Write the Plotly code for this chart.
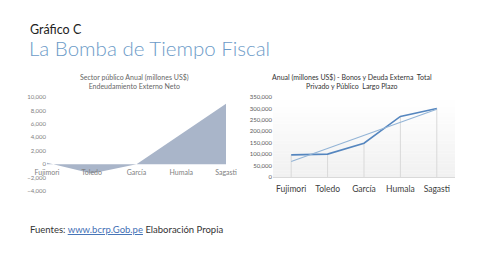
import numpy as np
import plotly.graph_objects as go

# ---------------- data ----------------
categories = ["Fujimori", "Toledo", "García", "Humala", "Sagasti"]
neto_values = [200, -1400, 0, 4500, 9000]          # Endeudamiento externo neto (millones US$)
deuda_values = [97000, 100000, 148000, 265000, 300000]  # Bonos y deuda externa total (millones US$)
left_tickvals = [-4000, -2000, 0, 2000, 4000, 6000, 8000, 10000]
right_tickvals = [0, 50000, 100000, 150000, 200000, 250000, 300000, 350000]

# linear trendline computed from the series (like Excel's trendline)
idx = np.arange(len(categories))
slope, intercept = np.polyfit(idx, deuda_values, 1)
trend_values = slope * idx + intercept

W, H = 488, 274
FONT = "Lato"

def px(x):
    return x / W

def py(y):
    return 1 - y / H

fig = go.Figure()

# ---- left chart: area ----
fig.add_trace(go.Scatter(
    x=categories, y=neto_values, mode="lines", fill="tozeroy",
    line=dict(width=0, color="#a9b5c9"), fillcolor="#a9b5c9",
    xaxis="x", yaxis="y", showlegend=False, hoverinfo="skip"))

# ---- right chart: drop lines, series, trend ----
drop_x, drop_y = [], []
for c, v in zip(categories, deuda_values):
    drop_x += [c, c, None]
    drop_y += [0, v, None]
fig.add_trace(go.Scatter(
    x=drop_x, y=drop_y, mode="lines", line=dict(color="#d9d9d9", width=1),
    xaxis="x2", yaxis="y2", showlegend=False, hoverinfo="skip"))
fig.add_trace(go.Scatter(
    x=categories, y=deuda_values, mode="lines",
    line=dict(color="#5586bf", width=1.6),
    xaxis="x2", yaxis="y2", showlegend=False))
fig.add_trace(go.Scatter(
    x=categories, y=trend_values, mode="lines",
    line=dict(color="#93b4d6", width=1.1),
    xaxis="x2", yaxis="y2", showlegend=False))

# geometry
ly_dom = [py(191), py(97)]
lzero = ly_dom[0] + (0 - (-4000)) / 14000 * (ly_dom[1] - ly_dom[0])

tick_font = dict(family=FONT, size=6, color="#808080")

fig.update_layout(
    width=W, height=H,
    margin=dict(l=0, r=0, t=0, b=0, autoexpand=False),
    paper_bgcolor="white", plot_bgcolor="rgba(0,0,0,0)",
    font=dict(family=FONT, weight="normal"),
    xaxis=dict(domain=[px(47), px(226)], type="category", range=[0, 4],
               anchor="free", position=lzero, showgrid=False, zeroline=False,
               showline=False, ticks="", automargin=False, ticklabelstandoff=3,
               tickfont=dict(family=FONT, size=7, color="#808080")),
    yaxis=dict(domain=ly_dom, range=[-4000, 10000], tickvals=left_tickvals,
               tickformat=",", showgrid=False, zeroline=False, showline=False,
               ticks="", tickfont=tick_font, anchor="x", automargin=False),
    xaxis2=dict(domain=[px(273), px(455)], type="category", range=[-0.5, 4.5],
                anchor="y2", showgrid=False, zeroline=False, showline=True,
                linecolor="#d9d9d9", linewidth=1, ticks="", automargin=False,
                ticklabelstandoff=4,
                tickfont=dict(family=FONT, size=8.5, color="#404040")),
    yaxis2=dict(domain=[py(177), py(97)], range=[0, 350000], tickvals=right_tickvals,
                tickformat=",", showgrid=False, zeroline=False, showline=False,
                ticks="", automargin=False,
                tickfont=dict(family=FONT, size=6, color="#595959"), anchor="x2"),
)

# subtle vertical gradient in right plot area
nb = 24
for i in range(nb):
    t = i / (nb - 1)
    g = int(round(255 - 14 * t))
    fig.add_shape(type="rect", xref="x2 domain", yref="y2 domain",
                  x0=0, x1=1, y0=1 - (i + 1) / nb, y1=1 - i / nb,
                  line=dict(width=0), fillcolor=f"rgb({g},{g},{g})", layer="below")

# texts
fig.add_annotation(x=px(28), y=py(29), xref="paper", yref="paper", xanchor="left",
                   yanchor="middle", showarrow=False, text="Gráfico C",
                   font=dict(family=FONT, size=12.5, color="#222222", weight="normal"))
fig.add_annotation(x=px(27), y=py(48), xref="paper", yref="paper", xanchor="left",
                   yanchor="middle", showarrow=False, text="La Bomba de Tiempo Fiscal",
                   font=dict(family=FONT, size=20.5, color="#6c9bc8", weight=300))
fig.add_annotation(x=px(134.5), y=py(81.5), xref="paper", yref="paper", xanchor="center",
                   yanchor="middle", showarrow=False,
                   text="Sector público Anual (millones US$)<br>Endeudamiento Externo Neto",
                   font=dict(family=FONT, size=7, color="#666666"))
fig.add_annotation(x=px(352), y=py(81.5), xref="paper", yref="paper", xanchor="center",
                   yanchor="middle", showarrow=False,
                   text="Anual (millones US$) - Bonos y Deuda Externa  Total<br>Privado y Público  Largo Plazo",
                   font=dict(family=FONT, size=7, color="#333333"))
fig.add_annotation(x=px(28), y=py(229), xref="paper", yref="paper", xanchor="left",
                   yanchor="middle", showarrow=False,
                   text="Fuentes: <span style='color:#3f6fb5;text-decoration:underline'>www.bcrp.Gob.pe</span> Elaboración Propia",
                   font=dict(family=FONT, size=9.5, color="#333333", weight="normal"))

fig.write_html("out.html")
